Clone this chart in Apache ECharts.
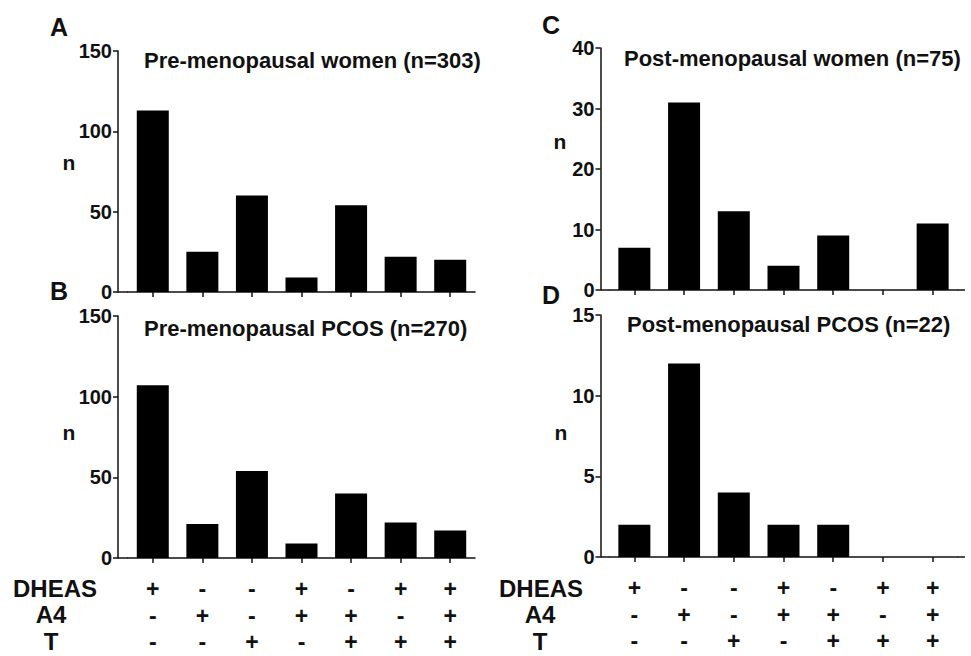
<!DOCTYPE html>
<html>
<head>
<meta charset="utf-8">
<script src="https://cdn.jsdelivr.net/npm/echarts@6/dist/echarts.min.js"></script>
<style>html,body{margin:0;padding:0;background:#fff;}#c{width:971px;height:656px;}</style>
</head>
<body>
<div id="c"></div>
<script>
// ---- data ----
var categories = ['1','2','3','4','5','6','7'];
var dheas = ['+','-','-','+','-','+','+'];
var a4    = ['-','+','-','+','+','-','+'];
var tRow  = ['-','-','+','-','+','+','+'];
var preWomen = [113, 25, 60, 9, 54, 22, 20];
var prePCOS  = [107, 21, 54, 9, 40, 22, 17];
var postWomen = [7, 31, 13, 4, 9, 0, 11];
var postPCOS  = [2, 12, 4, 2, 2, 0, 0];
var titles = ['Pre-menopausal women (n=303)', 'Pre-menopausal PCOS (n=270)', 'Post-menopausal women (n=75)', 'Post-menopausal PCOS (n=22)'];
var panelLetters = ['A','B','C','D'];
var yMax = [150, 150, 40, 15];
var yInt = [50, 50, 10, 5];
var rowNames = ['DHEAS','A4','T'];

var FONT = "'Liberation Sans', Arial, sans-serif";
var grids = [
  {left:128, top:51, width:347, height:241},
  {left:128, top:316, width:347, height:242},
  {left:609.5, top:48, width:348, height:242},
  {left:609.5, top:315, width:348, height:242}
];
var series = [preWomen, prePCOS, postWomen, postPCOS];
var showSigns = [false, true, false, true];

function txt(s, x, y, size, align){
  return {type:'text', x:x, y:y, style:{text:s, textAlign:align||'center', textVerticalAlign:'middle',
    fontFamily:FONT, fontWeight:'bold', fontSize:size, fill:'#111'}};
}
function seg(x1,y1,x2,y2){
  return {type:'line', shape:{x1:x1,y1:y1,x2:x2,y2:y2}, style:{stroke:'#111', lineWidth:1.5}};
}

var option = {
  animation:false,
  backgroundColor:'#fff',
  grid: grids,
  xAxis: grids.map(function(g,i){
    return {
      type:'category', gridIndex:i, data:categories,
      axisLine:{lineStyle:{color:'#111', width:1.5}},
      axisTick:{show:true, alignWithLabel:true, length:5, lineStyle:{color:'#111', width:1.5}},
      axisLabel:{
        show:showSigns[i], interval:0, margin:18, lineHeight:26.5,
        color:'#111', fontFamily:FONT, fontWeight:'bold', fontSize:23,
        formatter:function(v, idx){ return dheas[idx] + '\n' + a4[idx] + '\n' + tRow[idx]; }
      }
    };
  }),
  yAxis: grids.map(function(g,i){
    return {
      type:'value', gridIndex:i, min:0, max:yMax[i], interval:yInt[i],
      offset: i < 2 ? 10 : 9,
      splitLine:{show:false},
      axisLine:{show:true, lineStyle:{color:'#111', width:1.5}},
      axisTick:{show:true, length:5, lineStyle:{color:'#111', width:1.5}},
      axisLabel:{color:'#111', fontFamily:FONT, fontWeight:'bold', fontSize:20, margin:6}
    };
  }),
  series: series.map(function(d,i){
    return {type:'bar', xAxisIndex:i, yAxisIndex:i, data:d, barWidth:32,
      itemStyle:{color:'#000'}, silent:true};
  }),
  graphic: [
    seg(118,292,128,292), seg(118,558,128,558),
    seg(600.5,290,609.5,290), seg(600.5,557,609.5,557),
    seg(957.5,290,965,290), seg(957.5,557,965,557),
    txt(panelLetters[0], 59, 27, 25), txt(panelLetters[1], 59, 291, 25),
    txt(panelLetters[2], 551, 25, 25), txt(panelLetters[3], 551, 295, 25),
    txt(titles[0], 144, 60, 22, 'left'), txt(titles[1], 144, 328, 22, 'left'),
    txt(titles[2], 624, 58, 22, 'left'), txt(titles[3], 627, 324, 22, 'left'),
    txt('n', 69, 162, 21), txt('n', 69, 432, 21), txt('n', 560, 141, 21), txt('n', 561, 432, 21),
    txt(rowNames[0], 55, 588, 24), txt(rowNames[1], 51, 614.5, 24), txt(rowNames[2], 51, 641, 24),
    txt(rowNames[0], 541, 588, 24), txt(rowNames[1], 540, 614.5, 24), txt(rowNames[2], 540, 641, 24)
  ]
};
var chart = echarts.init(document.getElementById('c'), null, {renderer:'svg'});
chart.setOption(option);
</script>
</body>
</html>
